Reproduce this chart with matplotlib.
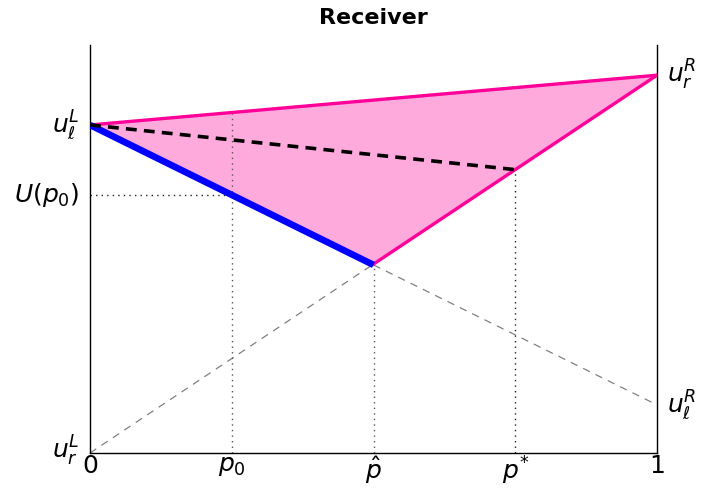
import matplotlib
matplotlib.use("Agg")
import matplotlib.pyplot as plt
import numpy as np

plt.rcParams['mathtext.fontset'] = 'dejavusans'
plt.rcParams['font.family'] = ['DejaVu Sans']

# data
x_ticks = [0.0, 0.25, 0.5, 0.75, 1.0]
x_labels = ['0', r'$p_0$', r'$\hat{p}$', r'$p^{*}$', '1']
u_l_L = 0.804   # left action, state L (value at p=0)
u_l_R = 0.118   # left action, state R (value at p=1)
u_r_L = 0.0     # right action, state L
u_r_R = 0.926   # right action, state R
p0, p_hat, p_star = 0.25, 0.5, 0.75

def left(p):
    return u_l_L + (u_l_R - u_l_L) * p

def right(p):
    return u_r_L + (u_r_R - u_r_L) * p

def top(p):
    return u_l_L + (u_r_R - u_l_L) * p

magenta = '#FF0099'
fill_c = '#FFAADD'
FS = 18

fig = plt.figure(figsize=(7.01, 4.90), dpi=100)
ax = fig.add_axes([90/701, 1 - 453/490, (657-90)/701, (453-45)/490])

ps = np.linspace(0, 1, 201)
lower = np.maximum(left(ps), right(ps))
ax.fill_between(ps, lower, top(ps), color=fill_c, lw=0, zorder=1)

# gray dashed continuations
ax.plot([0, p_hat], [right(0), right(p_hat)], color='gray', lw=0.9, ls=(0, (6, 5)), zorder=2)
ax.plot([p_hat, 1], [left(p_hat), left(1)], color='gray', lw=0.9, ls=(0, (6, 5)), zorder=2)

# dotted guides
ax.plot([p0, p0], [0, top(p0)], color='#555555', lw=1, ls=(0, (1, 3)), zorder=2)
ax.plot([p_hat, p_hat], [0, left(p_hat)], color='#555555', lw=1, ls=(0, (1, 3)), zorder=2)
ax.plot([p_star, p_star], [0, right(p_star)], color='#222222', lw=1, ls=(0, (1, 3)), zorder=2)
ax.plot([0, p0], [left(p0), left(p0)], color='#222222', lw=1, ls=(0, (1, 3)), zorder=2)

# pink boundary
ax.plot([0, 1], [u_l_L, u_r_R], color=magenta, lw=2.4, zorder=3)
ax.plot([p_hat, 1], [right(p_hat), u_r_R], color=magenta, lw=2.4, zorder=3)
# blue lower
ax.plot([0, p_hat], [u_l_L, left(p_hat)], color='#0000FF', lw=4.8, solid_capstyle='butt', zorder=4)
# black dashed
ax.plot([0, p_star], [u_l_L, right(p_star)], color='black', lw=2.6, ls=(0, (3, 2)), zorder=5)

ax.set_xlim(0, 1)
ax.set_ylim(0, (453-45)/408)
ax.spines['top'].set_visible(False)
for s in ['left', 'right', 'bottom']:
    ax.spines[s].set_linewidth(1.0)
ax.set_xticks(x_ticks)
ax.set_xticklabels(x_labels, fontsize=FS)
ax.tick_params(axis='x', length=0, pad=1)
ax.set_yticks([])

# left labels
ax.text(-0.018, u_l_L, r'$u_\ell^L$', ha='right', va='center', fontsize=FS)
ax.text(-0.018, left(p0), r'$U(p_0)$', ha='right', va='center', fontsize=FS)
ax.text(-0.018, u_r_L + 0.005, r'$u_r^L$', ha='right', va='center', fontsize=FS)
# right labels
ax.text(1.018, u_r_R, r'$u_r^R$', ha='left', va='center', fontsize=FS)
ax.text(1.018, u_l_R, r'$u_\ell^R$', ha='left', va='center', fontsize=FS)

fig.text((90+657)/2/701, 1 - 18/490, 'Receiver', ha='center', va='center',
         fontsize=16, fontweight='bold')

fig.savefig('out.png', dpi=100)
